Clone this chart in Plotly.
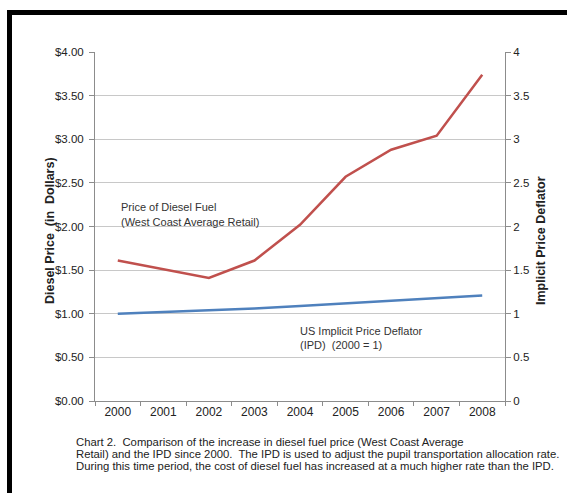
import plotly.graph_objects as go

years = ["2000", "2001", "2002", "2003", "2004", "2005", "2006", "2007", "2008"]
diesel_price = [1.61, 1.51, 1.41, 1.61, 2.02, 2.57, 2.88, 3.04, 3.74]
ipd = [1.00, 1.02, 1.04, 1.06, 1.09, 1.12, 1.15, 1.18, 1.21]
left_ticks = [0, 0.5, 1, 1.5, 2, 2.5, 3, 3.5, 4]
left_labels = ["$0.00", "$0.50", "$1.00", "$1.50", "$2.00", "$2.50", "$3.00", "$3.50", "$4.00"]
right_labels = ["0", "0.5", "1", "1.5", "2", "2.5", "3", "3.5", "4"]
caption_lines = [
    "Chart 2.  Comparison of the increase in diesel fuel price (West Coast Average",
    "Retail) and the IPD since 2000.  The IPD is used to adjust the pupil transportation allocation rate.",
    "During this time period, the cost of diesel fuel has increased at a much higher rate than the IPD.",
]

W, H = 567, 493
L, R, T, B = 95, 505, 52, 401

def px(x):
    return (x - L) / (R - L)

def py(y):
    return (B - y) / (B - T)

FONT = "Liberation Sans, Arial, sans-serif"

fig = go.Figure()
fig.add_trace(go.Scatter(x=years, y=diesel_price, mode="lines",
                         line=dict(color="#C0504D", width=2.5), yaxis="y"))
fig.add_trace(go.Scatter(x=years, y=ipd, mode="lines",
                         line=dict(color="#4F81BD", width=2.5), yaxis="y2"))

fig.update_layout(
    width=W, height=H,
    margin=dict(l=L, r=W - R, t=T, b=H - B),
    paper_bgcolor="white", plot_bgcolor="white",
    showlegend=False,
    font=dict(family=FONT, size=11, color="#222"),
    xaxis=dict(type="category", range=[-0.5, 8.5], showgrid=False, showline=True,
               linecolor="#8c8c8c", ticks="outside", ticklen=4, tickcolor="#8c8c8c",
               tickson="boundaries", tickfont=dict(size=12), mirror=False),
    yaxis=dict(range=[0, 4], tickvals=left_ticks, ticktext=left_labels,
               showgrid=True, gridcolor="#c8c8c8", gridwidth=1,
               showline=True, linecolor="#8c8c8c", ticks="outside", ticklen=5,
               tickcolor="#8c8c8c", tickfont=dict(size=11.5), zeroline=False,
               ticklabelstandoff=3),
    yaxis2=dict(range=[0, 4], tickvals=left_ticks, ticktext=right_labels,
                overlaying="y", side="right", showgrid=False,
                showline=True, linecolor="#8c8c8c", ticks="outside", ticklen=5,
                tickcolor="#8c8c8c", tickfont=dict(size=11.5), zeroline=False),
)

ann = []
ann.append(dict(text="<b>Diesel Price  (in  Dollars)</b>", x=px(41), y=py(231), xref="paper", yref="paper",
                textangle=-90, showarrow=False, font=dict(size=12.5, color="#222")))
ann.append(dict(text="<b>Implicit Price Deflator</b>", x=px(550), y=py(241), xref="paper", yref="paper",
                textangle=-90, showarrow=False, font=dict(size=12.5, color="#222")))
ann.append(dict(text="Price of Diesel Fuel", x=px(119), y=py(207),
                xref="paper", yref="paper", xanchor="left", yanchor="middle",
                showarrow=False, font=dict(size=11, color="#333")))
ann.append(dict(text="(West Coast Average Retail)", x=px(119), y=py(222),
                xref="paper", yref="paper", xanchor="left", yanchor="middle",
                showarrow=False, font=dict(size=11, color="#333")))
ann.append(dict(text="US Implicit Price Deflator", x=px(298), y=py(331),
                xref="paper", yref="paper", xanchor="left", yanchor="middle",
                showarrow=False, font=dict(size=11, color="#333")))
ann.append(dict(text="(IPD)  (2000 = 1)", x=px(298), y=py(345),
                xref="paper", yref="paper", xanchor="left", yanchor="middle",
                showarrow=False, font=dict(size=11, color="#333")))
for i, line in enumerate(caption_lines):
    ann.append(dict(text=line, x=px(74), y=py(442 + 12 * i), xref="paper", yref="paper",
                    xanchor="left", yanchor="middle", showarrow=False,
                    font=dict(size=11.3, color="#222")))
fig.update_layout(annotations=ann)

# black frame (top and left edges visible; right/bottom extend beyond window)
fig.add_shape(type="line", xref="paper", yref="paper", x0=px(7), x1=px(600), y0=py(12.5), y1=py(12.5),
              line=dict(color="black", width=5))
fig.add_shape(type="line", xref="paper", yref="paper", x0=px(9.5), x1=px(9.5), y0=py(10), y1=py(600),
              line=dict(color="black", width=5))

fig.write_html("out.html")
